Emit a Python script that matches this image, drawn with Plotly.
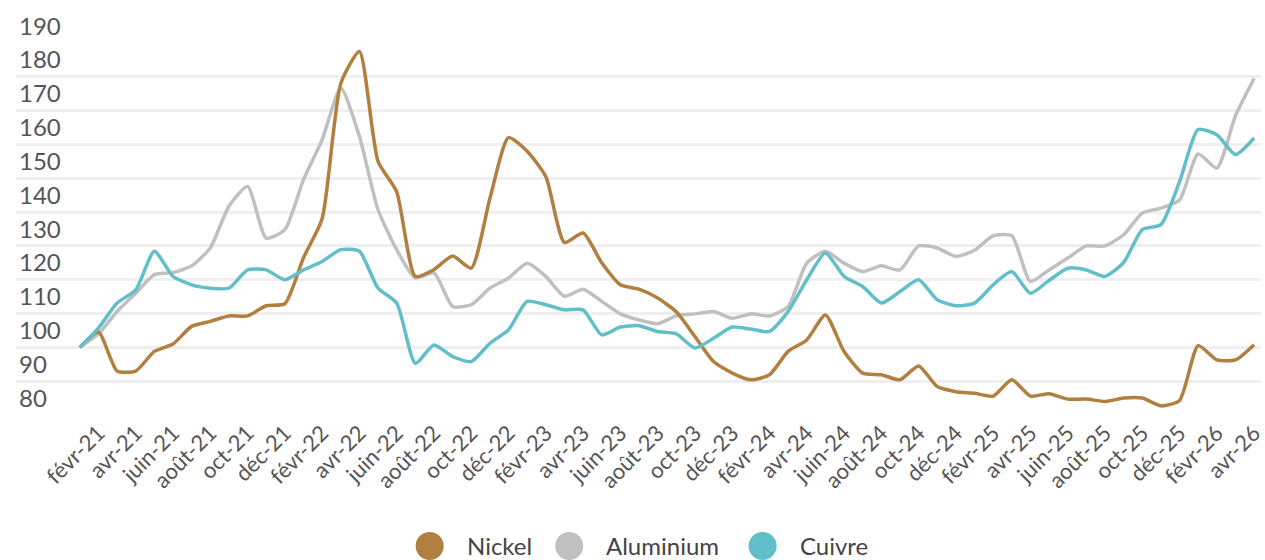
import plotly.graph_objects as go

months = [
    "janv-21", "févr-21", "mars-21", "avr-21", "mai-21", "juin-21", "juil-21", "août-21", "sept-21", "oct-21", "nov-21", "déc-21",
    "janv-22", "févr-22", "mars-22", "avr-22", "mai-22", "juin-22", "juil-22", "août-22", "sept-22", "oct-22", "nov-22", "déc-22",
    "janv-23", "févr-23", "mars-23", "avr-23", "mai-23", "juin-23", "juil-23", "août-23", "sept-23", "oct-23", "nov-23", "déc-23",
    "janv-24", "févr-24", "mars-24", "avr-24", "mai-24", "juin-24", "juil-24", "août-24", "sept-24", "oct-24", "nov-24", "déc-24",
    "janv-25", "févr-25", "mars-25", "avr-25", "mai-25", "juin-25", "juil-25", "août-25", "sept-25", "oct-25", "nov-25", "déc-25",
    "janv-26", "févr-26", "mars-26", "avr-26",
]

nickel = [
    100, 104.5, 93, 93, 98.8, 101, 106.2, 107.7, 109.3, 109.3, 112.3, 112.9,
    126.5, 138, 178, 187.5, 155, 146, 121, 123, 127, 123.4, 144, 162,
    158, 150.5, 131, 133.8, 125, 118.5, 117.2, 114.6, 110.5, 103.2, 95.8, 92.4,
    90.4, 91.9, 98.8, 102.2, 109.6, 98.8, 92.4, 91.9, 90.4, 94.5, 88.4, 86.9,
    86.4, 85.6, 90.4, 85.6, 86.3, 84.7, 84.7, 84.0, 85.0, 85.0, 82.7, 84.3,
    100.5, 96.3, 96.3, 100.8,
]

aluminium = [
    100, 104, 110.6, 116, 121.5, 122.1, 124.1, 129.4, 141.7, 147.6, 132.3, 134.8,
    149.6, 161.4, 176.7, 162.4, 140.7, 128.9, 120.5, 122, 112.1, 112.6, 117.5, 120.5,
    124.9, 121, 115.1, 117.2, 113.6, 109.9, 108.1, 107, 109.3, 109.9, 110.6, 108.6,
    109.9, 109.3, 112.1, 124.9, 128.4, 124.9, 122.4, 124.1, 122.9, 130, 129.4, 126.9,
    128.7, 133, 133, 119.5, 122.9, 126.4, 130, 130, 133.3, 139.7, 141.2, 143.6,
    157.2, 153, 168.5, 179.5,
]

cuivre = [
    100, 105.7, 113.1, 117, 128.4, 121, 118.5, 117.5, 117.5, 122.9, 122.9, 120,
    122.9, 125.4, 128.9, 128.4, 117.5, 113.1, 95.3, 100.7, 97.3, 95.8, 101.2, 105.2,
    113.6, 112.6, 111.1, 111.1, 103.7, 106, 106.4, 104.7, 104, 99.8, 102.7, 106,
    105.4, 104.7, 110.6, 120, 127.9, 121, 118, 113.1, 116.5, 120, 114.1, 112.3,
    113.1, 118.5, 122.4, 116, 119.8, 123.4, 122.9, 121, 125.1, 134.8, 136.3, 149,
    164.4, 162.9, 157, 161.9,
]

series_names = ["Nickel", "Aluminium", "Cuivre"]
series_values = [nickel, aluminium, cuivre]
series_colors = ["#b17f40", "#c0c0c0", "#62bfc9"]

y_ticks = [80, 90, 100, 110, 120, 130, 140, 150, 160, 170, 180, 190]
x_tick_labels = months[1::2]

W, H = 1265, 560
ML, MR, MT, MB = 16, 0, 43, 145
PW, PH = W - ML - MR, H - MT - MB

FONT = "Lato"
TXT = "#555555"

fig = go.Figure()
draw_order = [1, 0, 2]
for k in draw_order:
    fig.add_trace(go.Scatter(
        x=months, y=series_values[k], name=series_names[k], mode="lines",
        line=dict(color=series_colors[k], width=3.5, shape="spline", smoothing=0.6),
        showlegend=False, hoverinfo="skip",
    ))

# x range: first point at pixel 80, spacing 18.7 px
first_px, step = 80, 18.7
x0 = -(first_px - ML) / step
x1 = x0 + PW / step

fig.update_xaxes(
    type="category", range=[x0, x1], tickmode="array",
    tickvals=x_tick_labels, ticktext=x_tick_labels, tickangle=-45,
    tickfont=dict(family=FONT, size=22, color=TXT),
    showgrid=False, zeroline=False, showline=False, ticks="",
)
fig.update_yaxes(
    range=[80, 190], tickmode="array", tickvals=y_ticks,
    ticktext=[str(v) for v in y_ticks],
    ticklabelposition="inside top", ticklabeloverflow="allow",
    tickfont=dict(family=FONT, size=24, color=TXT),
    showgrid=True, gridcolor="#efefef", gridwidth=3,
    zeroline=False, showline=False, ticks="",
)

# custom legend with large circles
legend_cy = 545
legend_items = [(431, 467), (571, 607), (765, 802)]
def px_x(p):
    return (p - ML) / PW
def px_y(p):
    return (H - MB - p) / PH

shapes = []
annotations = []
for (cx, tx), name, color in zip(legend_items, series_names, series_colors):
    shapes.append(dict(
        type="circle", xref="paper", yref="paper",
        xsizemode="pixel", ysizemode="pixel",
        xanchor=px_x(cx), yanchor=px_y(legend_cy + 1),
        x0=-14, x1=14, y0=-14, y1=14,
        fillcolor=color, line=dict(width=0),
    ))
    annotations.append(dict(
        x=px_x(tx), y=px_y(legend_cy), xref="paper", yref="paper",
        xanchor="left", yanchor="middle", showarrow=False, text=name,
        font=dict(family=FONT, size=24, color="#444444"), borderpad=0,
    ))

fig.update_layout(
    width=W, height=H,
    margin=dict(l=ML, r=MR, t=MT, b=MB, pad=0),
    paper_bgcolor="white", plot_bgcolor="white",
    showlegend=False, shapes=shapes, annotations=annotations,
    font=dict(family=FONT, color=TXT),
)

fig.write_html("out.html")
